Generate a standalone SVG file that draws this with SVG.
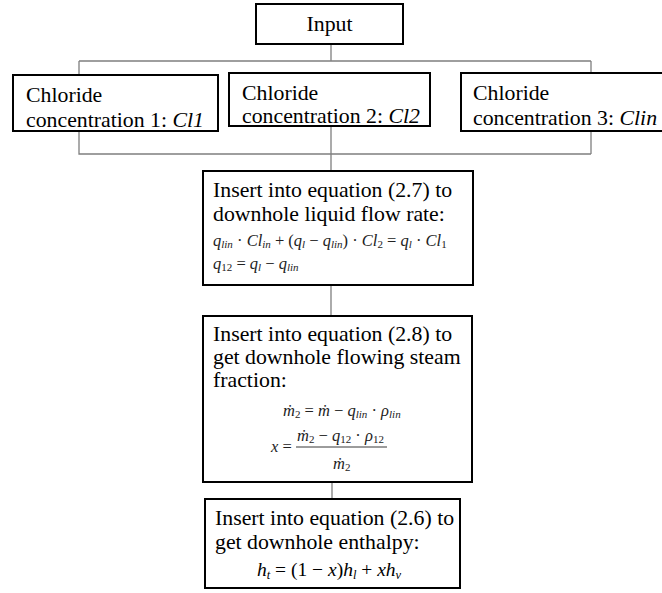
<svg xmlns="http://www.w3.org/2000/svg" width="662" height="593" viewBox="0 0 662 593">
<style>
.box{fill:#fff;stroke:#000;stroke-width:2}
.con{fill:none;stroke:#7f7f7f;stroke-width:1.3}
text{font-family:"Liberation Serif","Times New Roman",serif}
.t{font-size:21.8px;fill:#000}
.i{font-style:italic}
.eq{font-style:italic;font-size:16.5px;fill:#222}
.n{font-style:normal}
.sub{font-size:11px}
.eqb{font-style:italic;font-size:19.5px;fill:#000}
.sb{font-size:12.5px}
</style>
<rect width="662" height="593" fill="#fff"/>
<g id="connectors">
<path class="con" d="M331 44V61M79 61H591M79 61V75M591 61V73"/>
<path class="con" d="M79 131V154H591M591 131V154M331 126V171"/>
<path class="con" d="M331 285V316"/>
<path class="con" d="M332 482V499"/>
</g>
<g id="input">
<rect class="box" x="256" y="4" width="147" height="40"/>
<text class="t" x="329.5" y="31" text-anchor="middle">Input</text>
</g>
<g id="cl1">
<rect class="box" x="13" y="75" width="205" height="56"/>
<text class="t" x="26" y="102">Chloride</text>
<text class="t" x="26" y="127">concentration 1: <tspan class="i">Cl1</tspan></text>
</g>
<g id="cl2">
<rect class="box" x="229" y="73" width="201" height="53"/>
<text class="t" x="242" y="100">Chloride</text>
<text class="t" x="242" y="123">concentration 2: <tspan class="i">Cl2</tspan></text>
</g>
<g id="clin">
<rect class="box" x="461" y="73" width="205" height="58"/>
<text class="t" x="473" y="100">Chloride</text>
<text class="t" x="473" y="125">concentration 3: <tspan class="i">Clin</tspan></text>
</g>
<g id="eq27">
<rect class="box" x="203" y="171" width="270" height="114"/>
<text class="t" x="213" y="197">Insert into equation (2.7) to</text>
<text class="t" x="213" y="221">downhole liquid flow rate:</text>
<text class="eq" x="213" y="246">q<tspan class="sub" dy="2">lin</tspan><tspan class="n" dy="-2"> · </tspan>Cl<tspan class="sub" dy="2">in</tspan><tspan class="n" dy="-2"> + (</tspan>q<tspan class="sub" dy="2">l</tspan><tspan class="n" dy="-2"> − </tspan>q<tspan class="sub" dy="2">lin</tspan><tspan class="n" dy="-2">) · </tspan>Cl<tspan class="n sub" dy="2">2</tspan><tspan class="n" dy="-2"> = </tspan>q<tspan class="sub" dy="2">l</tspan><tspan class="n" dy="-2"> · </tspan>Cl<tspan class="n sub" dy="2">1</tspan></text>
<text class="eq" x="213" y="269">q<tspan class="n sub" dy="2">12</tspan><tspan class="n" dy="-2"> = </tspan>q<tspan class="sub" dy="2">l</tspan><tspan class="n" dy="-2"> − </tspan>q<tspan class="sub" dy="2">lin</tspan></text>
</g>
<g id="eq28">
<rect class="box" x="203" y="316" width="269" height="166"/>
<text class="t" x="213" y="341">Insert into equation (2.8) to</text>
<text class="t" x="213" y="364">get downhole flowing steam</text>
<text class="t" x="213" y="387">fraction:</text>
<text class="eq" x="283" y="416">ṁ<tspan class="n sub" dy="2">2</tspan><tspan class="n" dy="-2"> = </tspan>ṁ<tspan class="n"> − </tspan>q<tspan class="sub" dy="2">lin</tspan><tspan class="n" dy="-2"> · </tspan>ρ<tspan class="sub" dy="2">lin</tspan></text>
<text class="eq" x="271" y="452">x<tspan class="n"> =</tspan></text>
<text class="eq" x="297" y="441">ṁ<tspan class="n sub" dy="2">2</tspan><tspan class="n" dy="-2"> − </tspan>q<tspan class="n sub" dy="2">12</tspan><tspan class="n" dy="-2"> · </tspan>ρ<tspan class="n sub" dy="2">12</tspan></text>
<line x1="296" y1="447" x2="387" y2="447" stroke="#222" stroke-width="0.9"/>
<text class="eq" x="333" y="469">ṁ<tspan class="n sub" dy="2">2</tspan></text>
</g>
<g id="eq26">
<rect class="box" x="205" y="499" width="255" height="89"/>
<text class="t" x="215" y="525">Insert into equation (2.6) to</text>
<text class="t" x="215" y="549">get downhole enthalpy:</text>
<text class="eqb" x="257" y="576">h<tspan class="sb" dy="3">t</tspan><tspan class="n" dy="-3"> = (1 − </tspan>x<tspan class="n">)</tspan>h<tspan class="sb" dy="3">l</tspan><tspan class="n" dy="-3"> + </tspan>xh<tspan class="sb" dy="3">v</tspan></text>
</g>
</svg>
